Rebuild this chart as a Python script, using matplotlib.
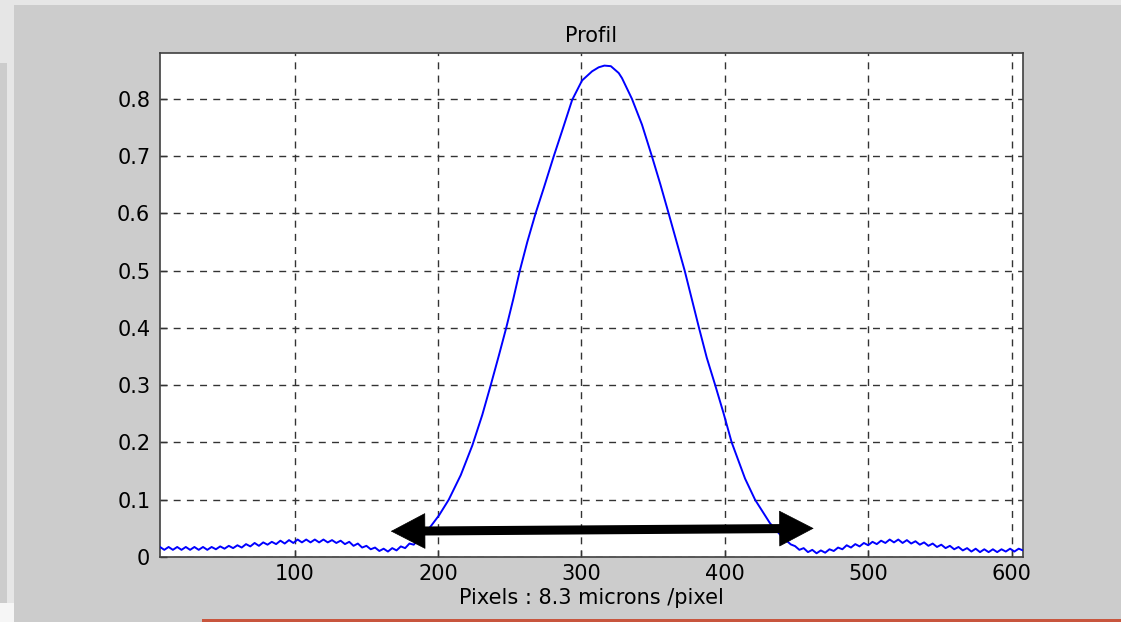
import numpy as np
import matplotlib
matplotlib.use("Agg")
import matplotlib.pyplot as plt
from matplotlib.patches import Rectangle, FancyArrowPatch, ArrowStyle

W, H = 1121, 622

# profile: left tail, main peak, right tail
left_x = list(range(6, 187, 3))
left_y = [0.0175, 0.0125, 0.0175, 0.0125, 0.0175, 0.0125, 0.0175, 0.0125, 0.0175, 0.0125,
          0.0175, 0.0125, 0.0175, 0.0135, 0.0185, 0.0145, 0.0195, 0.0155, 0.0205, 0.0165,
          0.0225, 0.0185, 0.0245, 0.0195, 0.0255, 0.0215, 0.0265, 0.0225, 0.0285, 0.0235,
          0.0295, 0.0245, 0.0305, 0.0255, 0.0305, 0.0255, 0.0305, 0.0255, 0.0305, 0.0255,
          0.0295, 0.0245, 0.0285, 0.0225, 0.0265, 0.0195, 0.0235, 0.0165, 0.0195, 0.0135,
          0.0165, 0.0105, 0.0145, 0.0095, 0.0155, 0.0115, 0.0185, 0.0155, 0.0235, 0.0215,
          0.030]

peak_x = [190, 195.6, 200.7, 207.4, 215.8, 223.9, 230.8, 236.7, 242.4, 247.5,
          252.4, 257, 262.2, 268, 273.8, 280.7, 286.5, 293.5, 300.4, 307.4,
          312, 316, 320.5, 326, 328.3, 335.2, 342.2, 349.1, 355, 360.8,
          366.6, 372, 377, 382, 387.4, 393.3, 399, 404.8, 414.1, 421.1,
          431.5, 440, 446]
peak_y = [0.038, 0.056, 0.073, 0.100, 0.143, 0.195, 0.248, 0.300, 0.352, 0.400,
          0.450, 0.500, 0.550, 0.600, 0.645, 0.700, 0.744, 0.798, 0.832, 0.848,
          0.855, 0.858, 0.857, 0.845, 0.836, 0.800, 0.755, 0.700, 0.651, 0.600,
          0.548, 0.500, 0.450, 0.400, 0.348, 0.300, 0.252, 0.200, 0.137, 0.100,
          0.059, 0.035, 0.022]

right_x = list(range(449, 609, 3))
right_y = [0.019, 0.0125, 0.0155, 0.0085, 0.0125, 0.0065, 0.0115, 0.0075, 0.0135, 0.0105,
           0.0165, 0.0135, 0.0205, 0.0165, 0.0225, 0.0185, 0.0245, 0.0205, 0.0265, 0.0225,
           0.0285, 0.0245, 0.0305, 0.0255, 0.0305, 0.0245, 0.0295, 0.0235, 0.0275, 0.0215,
           0.0255, 0.0195, 0.0235, 0.0175, 0.0215, 0.0155, 0.0195, 0.0135, 0.0175, 0.0115,
           0.0155, 0.0095, 0.0145, 0.0085, 0.0135, 0.0085, 0.0135, 0.0085, 0.0135, 0.0095,
           0.0145, 0.0095, 0.0145, 0.0115]

x = np.array(left_x + peak_x + right_x, dtype=float)
y = np.array(left_y + peak_y + right_y)

xticks = [100, 200, 300, 400, 500, 600]
yticks = [0, 0.1, 0.2, 0.3, 0.4, 0.5, 0.6, 0.7, 0.8]
yticklabels = ["0", "0.1", "0.2", "0.3", "0.4", "0.5", "0.6", "0.7", "0.8"]

arrow_left = (167, 0.045)
arrow_right = (462, 0.050)

plt.rcParams['font.family'] = ['DejaVu Sans']

fig = plt.figure(figsize=(W / 100, H / 100), dpi=100, facecolor='#cccccc')


def px(x0, y0, w, h):
    # rectangle in picture pixels -> figure fraction
    return (x0 / W, 1 - (y0 + h) / H), w / W, h / H


# screenshot frame bits
for (x0, y0, w, h, c) in [(0, 0, W, 5, '#e6e6e6'),
                          (0, 0, 14, H, '#e6e6e6'),
                          (0, 63, 7, 540, '#cccccc'),
                          (0, 603, 14, 19, '#f6f6f6'),
                          (202, 619, W - 202, 3, '#c8553d')]:
    xy, ww, hh = px(x0, y0, w, h)
    fig.add_artist(Rectangle(xy, ww, hh, transform=fig.transFigure,
                             facecolor=c, edgecolor='none', zorder=0))

ax = fig.add_axes([160 / W, 1 - 557 / H, 863 / W, 504 / H])
ax.set_facecolor('white')

ax.plot(x, y, color='#0000ff', lw=1.4, zorder=3)

ax.set_xlim(6, 608)
ax.set_ylim(0, 0.88)
ax.set_xticks(xticks)
ax.set_yticks(yticks)
ax.set_yticklabels(yticklabels)
ax.tick_params(direction='in', length=5, width=1, color='0.2',
               labelsize=15, labelcolor='black')
ax.tick_params(axis='x', pad=5)
ax.tick_params(axis='y', pad=7)
ax.grid(True, color='0.2', lw=1.0, linestyle=(0, (5, 4.5)))
ax.set_axisbelow(True)
for s in ax.spines.values():
    s.set_color('0.25')
    s.set_linewidth(1.2)

ax.set_title("Profil", fontsize=15, pad=8)
ax.set_xlabel("Pixels : 8.3 microns /pixel", fontsize=15, labelpad=3)

# double arrow: thick shaft plus filled heads
ax.annotate('', xy=arrow_right, xytext=arrow_left,
            arrowprops=dict(arrowstyle='-', lw=6.5, color='black',
                            shrinkA=20, shrinkB=20), zorder=4)
heads = FancyArrowPatch(arrow_left, arrow_right,
                        arrowstyle=ArrowStyle('<|-|>', head_length=24, head_width=12.5),
                        mutation_scale=1, lw=0.5, color='black',
                        shrinkA=0, shrinkB=0, zorder=4)
ax.add_patch(heads)

fig.savefig('out.png', dpi=100, facecolor=fig.get_facecolor())
